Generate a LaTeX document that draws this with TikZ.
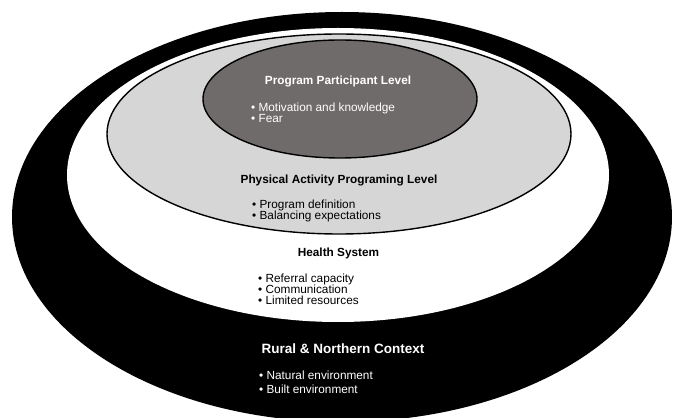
\documentclass[tikz,border=0pt]{standalone}
\usepackage{fontspec}
\setmainfont{Liberation Sans}
\definecolor{darkfill}{RGB}{111,107,106}
\definecolor{lightfill}{RGB}{214,214,214}
\tikzset{
  ring/.style={line width=1.4pt},
  ttl/.style={font=\fontsize{11.8}{12}\selectfont\bfseries, anchor=base, inner sep=0pt},
  bigttl/.style={font=\fontsize{13.5}{14}\selectfont\bfseries, anchor=base, inner sep=0pt},
  item/.style={font=\fontsize{11.8}{12}\selectfont, anchor=base west, inner sep=0pt},
}
\begin{document}
\begin{tikzpicture}[x=1pt,y=1pt]
\useasboundingbox (0,0) rectangle (673,418);
\clip (0,0) rectangle (673,418);
\fill[white] (0,0) rectangle (673,418);
% rural ring
\fill[black] (342,201) ellipse [x radius=330, y radius=205];
% health system
\fill[white] (338,243) ellipse [x radius=271, y radius=147];
% programming level
\filldraw[fill=lightfill, draw=black, ring] (339,284) ellipse [x radius=232, y radius=100];
% participant level
\filldraw[fill=darkfill, draw=black, ring] (340,319) ellipse [x radius=137, y radius=59];

\node[ttl, text=white] (ppl) at (338,333) {Program Participant Level};
\node[item, text=white] (ppl1) at (251,306.5) {• Motivation and knowledge};
\node[item, text=white] (ppl2) at (251,295.5) {• Fear};

\node[ttl] (pal) at (339,234) {Physical Activity Programing Level};
\node[item] (pal1) at (252,209) {• Program definition};
\node[item] (pal2) at (252,198) {• Balancing expectations};

\node[ttl] (hs) at (338.5,161) {Health System};
\node[item] (hs1) at (258,135) {• Referral capacity};
\node[item] (hs2) at (258,124) {• Communication};
\node[item] (hs3) at (258,113) {• Limited resources};

\node[bigttl, text=white] (rnc) at (343,64) {Rural \& Northern Context};
\node[item, text=white] (rnc1) at (259,38) {• Natural environment};
\node[item, text=white] (rnc2) at (259,24) {• Built environment};
\end{tikzpicture}
\end{document}
